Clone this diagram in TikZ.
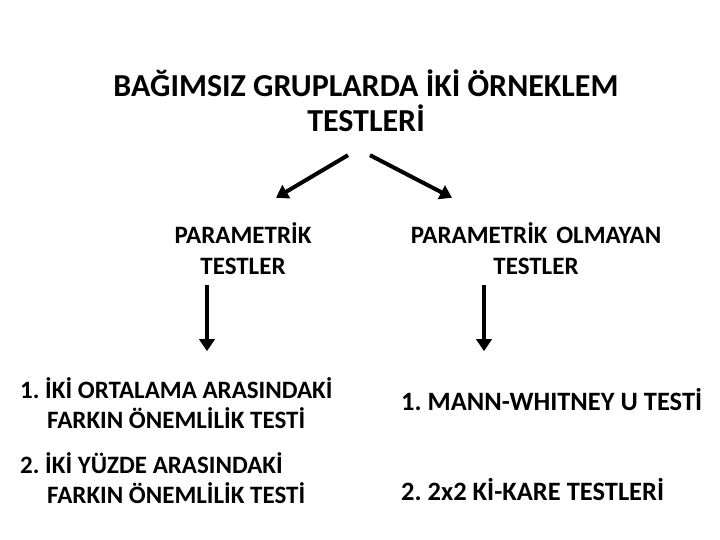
\documentclass[tikz,border=0pt]{standalone}
\usepackage{fontspec}
\setmainfont{Carlito}
\frenchspacing
\usetikzlibrary{arrows.meta,positioning,calc}
\tikzstyle{arrow} = [line width=4pt,-{Triangle[length=12pt,width=15pt]}]
\tikzstyle{head} = [inner sep=0pt,align=center,font=\fontsize{32}{35}\selectfont\bfseries]
\tikzstyle{group} = [inner sep=0pt,align=center,font=\fontsize{25}{31}\selectfont\bfseries]
\tikzstyle{item} = [inner sep=0pt,align=left,anchor=west,font=\fontsize{25}{30}\selectfont\bfseries]
\tikzstyle{bigitem} = [item,font=\fontsize{26.5}{30}\selectfont\bfseries]

\begin{document}
\begin{tikzpicture}[x=1pt,y=-1pt]
\useasboundingbox (0,0) rectangle (720,540);
% Title
\node[head] (title) at (366,101) {BAĞIMSIZ GRUPLARDA İKİ ÖRNEKLEM\\TESTLERİ};

% Groups
\node[group] (par) at (243,249) {PARAMETRİK\\TESTLER};
\node[group] (npar) at (536,249) {PARAMETRİK\hspace{3pt} OLMAYAN\\TESTLER};

% Tests
\node[item] (p1) at (20,403) {1. İKİ ORTALAMA ARASINDAKİ\\\hspace*{27pt}FARKIN ÖNEMLİLİK TESTİ};
\node[item] (p2) at (20,478) {2. İKİ YÜZDE ARASINDAKİ\\\hspace*{27pt}FARKIN ÖNEMLİLİK TESTİ};
\node[bigitem] (n1) at (401,400) {1. MANN-WHITNEY U TESTİ};
\node[bigitem] (n2) at (401,490) {2. 2x2 Kİ-KARE TESTLERİ};

% Arrows
\draw[arrow] ($(title.south)+(-18,23)$) -- ($(par.north)+(33,-25)$);
\draw[arrow] ($(title.south)+(4,23)$) -- ($(npar.north)+(-84,-25)$);
\draw[arrow] ($(par.south)+(-36,10)$) -- ++(0,66);
\draw[arrow] ($(npar.south)+(-52,10)$) -- ++(0,66);
\end{tikzpicture}
\end{document}
